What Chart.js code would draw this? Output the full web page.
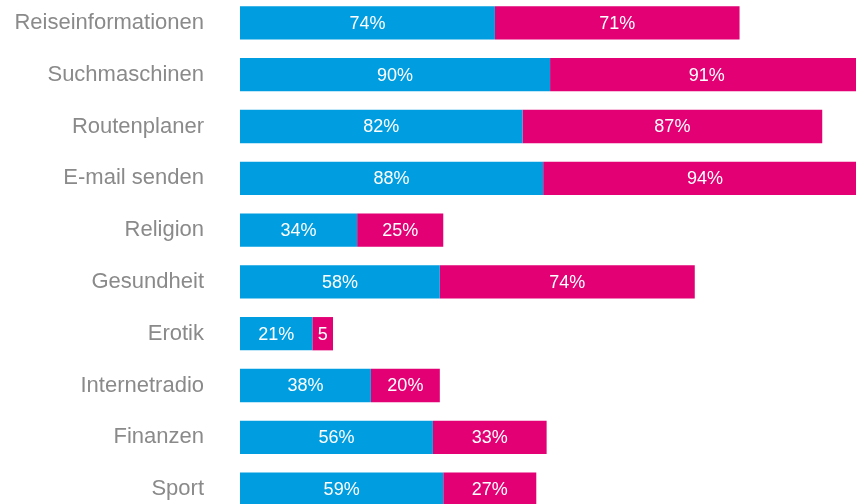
<!DOCTYPE html>
<html>
<head>
<meta charset="utf-8">
<script src="https://cdn.jsdelivr.net/npm/chart.js@4"></script>
<style>
  html, body { margin: 0; padding: 0; background: #fff; overflow: hidden; width: 856px; height: 504px; }
  #c { position: absolute; left: 0; top: -3.4px; }
</style>
</head>
<body>
<canvas id="c" width="856" height="518"></canvas>
<script>
const categories = ["Reiseinformationen", "Suchmaschinen", "Routenplaner", "E-mail senden", "Religion", "Gesundheit", "Erotik", "Internetradio", "Finanzen", "Sport"];
const blueValues = [74, 90, 82, 88, 34, 58, 21, 38, 56, 59];
const magentaValues = [71, 91, 87, 94, 25, 74, 6, 20, 33, 27];
const blueLabels = ["74%", "90%", "82%", "88%", "34%", "58%", "21%", "38%", "56%", "59%"];
const magentaLabels = ["71%", "91%", "87%", "94%", "25%", "74%", "5", "20%", "33%", "27%"];

const valueLabelPlugin = {
  id: 'valueLabels',
  afterDatasetsDraw(chart) {
    const ctx = chart.ctx;
    const labelSets = [blueLabels, magentaLabels];
    ctx.save();
    ctx.font = '18px "Liberation Sans", Arial, sans-serif';
    ctx.fillStyle = '#ffffff';
    ctx.textAlign = 'center';
    ctx.textBaseline = 'middle';
    chart.data.datasets.forEach((ds, di) => {
      const meta = chart.getDatasetMeta(di);
      meta.data.forEach((el, i) => {
        const cx = (el.x + el.base) / 2;
        ctx.fillText(labelSets[di][i], cx, el.y + 1);
      });
    });
    ctx.restore();
  }
};

new Chart(document.getElementById('c'), {
  type: 'bar',
  data: {
    labels: categories,
    datasets: [
      { label: 'A', data: blueValues, backgroundColor: '#009ee0', borderWidth: 0, barPercentage: 0.643, categoryPercentage: 1 },
      { label: 'B', data: magentaValues, backgroundColor: '#e20074', borderWidth: 0, barPercentage: 0.643, categoryPercentage: 1 }
    ]
  },
  options: {
    indexAxis: 'y',
    responsive: false,
    animation: false,
    layout: { padding: 0 },
    plugins: { legend: { display: false }, tooltip: { enabled: false } },
    scales: {
      x: { stacked: true, display: false, min: 0, max: 178.8 },
      y: {
        stacked: true,
        grid: { display: false, drawTicks: false },
        border: { display: false },
        ticks: { color: '#8a8a8a', font: { size: 22, family: '"Liberation Sans", Arial, sans-serif' }, padding: 36 },
        afterFit(scale) { scale.width = 240; scale.paddingTop = 0; scale.paddingBottom = 0; }
      }
    }
  },
  plugins: [valueLabelPlugin]
});
</script>
</body>
</html>
